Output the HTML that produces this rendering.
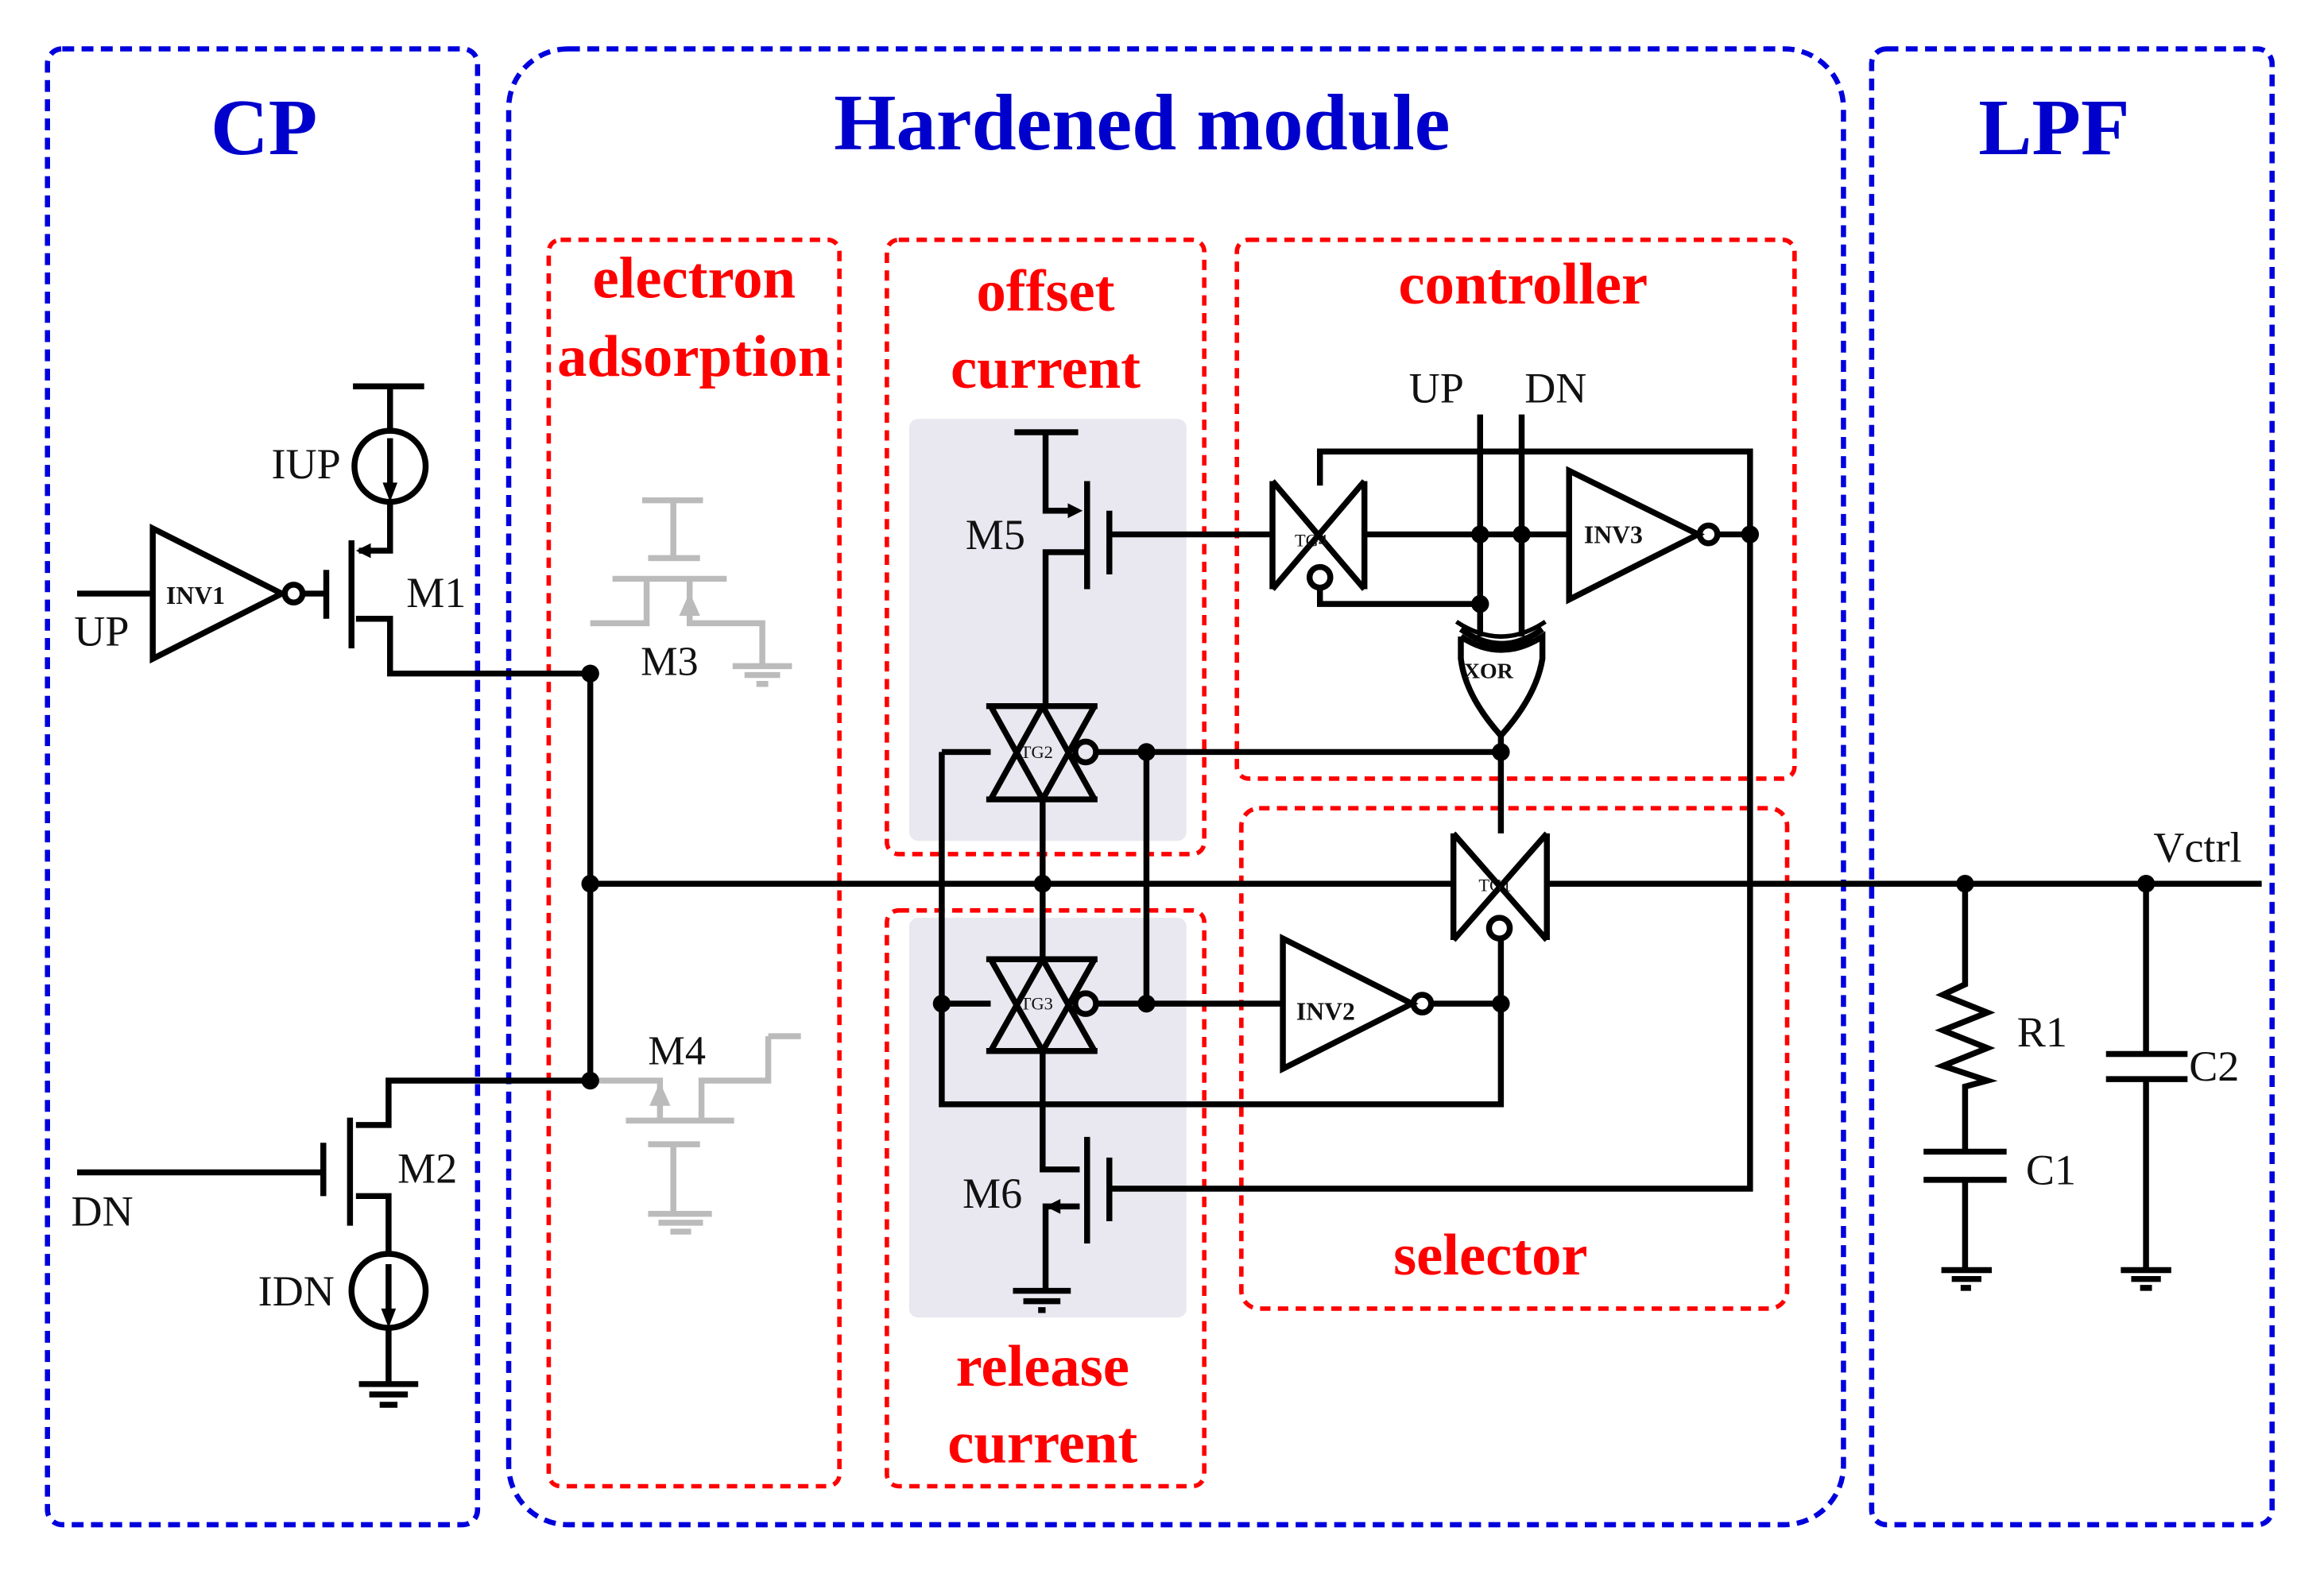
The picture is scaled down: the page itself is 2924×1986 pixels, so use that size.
<!DOCTYPE html>
<html><head><meta charset="utf-8"><style>
html,body{margin:0;padding:0;background:#fff;}
svg{display:block;}
text{font-family:"Liberation Serif",serif;}
</style></head><body>
<svg width="2924" height="1986" viewBox="0 0 1567 1066" preserveAspectRatio="none" xmlns="http://www.w3.org/2000/svg">
<rect width="1567" height="1066" fill="#fff"/>
<rect x="613" y="283" width="187" height="285" rx="6" fill="#e9e7ef"/>
<rect x="613" y="620" width="187" height="270" rx="6" fill="#e9e7ef"/>
<g fill="none" stroke="#0000dd" stroke-width="3.5" stroke-dasharray="8 5">
<rect x="32" y="33" width="290" height="997" rx="10"/>
<rect x="343" y="33" width="900" height="997" rx="40"/>
<rect x="1262" y="33" width="270" height="997" rx="10"/>
</g>
<g font-weight="bold" fill="#0000cc" text-anchor="middle" font-size="54">
<text x="178" y="104">CP</text>
<text x="770" y="101">Hardened module</text>
<text x="1385" y="104">LPF</text>
</g>
<g fill="none" stroke="#ff0000" stroke-width="3" stroke-dasharray="7 5">
<rect x="370" y="162" width="196" height="842" rx="8"/>
<rect x="598" y="162" width="214" height="415" rx="8"/>
<rect x="834" y="162" width="376" height="364" rx="8"/>
<rect x="598" y="615" width="214" height="389" rx="8"/>
<rect x="837" y="546" width="368" height="338" rx="12"/>
</g>
<g font-weight="bold" fill="#ff0000" text-anchor="middle" font-size="40">
<text x="468" y="201">electron</text>
<text x="468" y="254">adsorption</text>
<text x="705" y="210">offset</text>
<text x="705" y="262">current</text>
<text x="1027" y="205">controller</text>
<text x="1005" y="861">selector</text>
<text x="703" y="936">release</text>
<text x="703" y="988">current</text>
</g>
<g stroke="#bbbbbb" stroke-width="4" fill="none">
<path d="M433 338H474M454 338V377M437 377H472M413 391H490M436 391V421H398M465 391V421H514V449M494 450H534M502 456H526M510 462H518"/>
<path d="M518 700H540M518 700V730H473V757M422 757H495M445 757V730H398M437 773H472M454 773V820M437 820H480M444 826H474M452 832H466"/>
<path d="M465 405L461 414H469Z" fill="#bbb"/>
<path d="M445 736L441 745H449Z" fill="#bbb"/>
</g>
<g fill="#111" font-size="28">
<text x="432" y="456">M3</text>
<text x="437" y="719">M4</text>
</g>
<g stroke="#000" stroke-width="4" fill="none">
<path d="M238 261H286M263 261V291"/>
<circle cx="263" cy="315" r="24"/>
<path d="M263 296V330"/>
<path d="M263 339V372H242M237 365V438M220 385V418M240 418H263V455H398"/>
<path d="M103 357L103 445L190 401Z"/>
<circle cx="198" cy="401" r="6"/>
<path d="M204 401H220M52 401H103"/>
<path d="M398 455V730H262V760H240M236 755V828M218 772V808M52 792H218M240 808H262V847"/>
<circle cx="262" cy="872" r="25"/>
<path d="M262 854V888M262 897V935M242 935H282M249 942H275M256 949H268"/>
<path d="M398 597H980M1043 597H1525"/>
<path d="M684 292H727M705 292V345H724M733 325V398M748 345V388M748 361H858M733 373H705V477"/>
<path d="M665 477H740M665 540H740M668 477L703 540M703 477L668 540M703 477L738 540M738 477L703 540"/>
<circle cx="732" cy="508" r="7"/>
<path d="M635 508H668M739 508H1012M703 540V648"/>
<path d="M665 648H740M665 710H740M668 648L703 710M703 648L668 710M703 648L738 710M738 648L703 710"/>
<circle cx="732" cy="678" r="7"/>
<path d="M635 678H668M739 678H865M635 508V746H1012V634M773 508V678"/>
<path d="M703 710V790H728M733 768V840M748 782V825M748 803H1180V305H890V328M728 815H705V872M683 872H722M690 879H715M700 885H705"/>
<path d="M858 325V398M920 325V398M858 325L920 398M858 398L920 325"/>
<circle cx="890" cy="390" r="7"/>
<path d="M890 397V408H998M920 361H1058M998 280V430M1026 280V430"/>
<path d="M1058 318L1058 405L1145 361Z"/>
<circle cx="1152" cy="361" r="6"/>
<path d="M1158 361H1180"/>
<path d="M985 425Q1012 445 1040 425M985 430V445Q988 470 1012 497Q1036 470 1040 445V430Q1012 448 985 430M1012 497V563"/>
<path d="M982 420Q1012 440 1042 420" stroke-width="3"/>
<path d="M980 563V635M1043 563V635M980 563L1043 635M980 635L1043 563"/>
<circle cx="1011" cy="627" r="7"/>
<path d="M865 634L865 722L952 678Z"/>
<circle cx="959" cy="678" r="6"/>
<path d="M965 678H1012"/>
<path d="M1325 597V665L1310 672L1340 684L1310 696L1340 708L1310 720L1340 730L1325 734V778M1297 778H1353M1297 797H1353M1325 797V858M1309 858H1343M1316 864H1336M1322 870H1329"/>
<path d="M1447 597V712M1420 712H1475M1420 729H1475M1447 729V858M1430 858H1464M1437 864H1457M1443 870H1451"/>
</g>
<g fill="#000">
<path d="M263 339L258 326H268Z"/>
<path d="M240 372L250 367V377Z"/>
<path d="M262 897L257 884H267Z"/>
<path d="M730 345L720 340V350Z"/>
<path d="M705 815L715 810V820Z"/>
</g>
<g fill="#000">
<circle cx="398" cy="455" r="6"/><circle cx="398" cy="597" r="6"/><circle cx="398" cy="730" r="6"/>
<circle cx="703" cy="597" r="6"/><circle cx="773" cy="508" r="6"/><circle cx="773" cy="678" r="6"/>
<circle cx="635" cy="678" r="6"/><circle cx="1012" cy="508" r="6"/><circle cx="1012" cy="678" r="6"/>
<circle cx="998" cy="361" r="6"/><circle cx="1026" cy="361" r="6"/><circle cx="998" cy="408" r="6"/>
<circle cx="1180" cy="361" r="6"/><circle cx="1325" cy="597" r="6"/><circle cx="1447" cy="597" r="6"/>
</g>
<g fill="#111" font-size="29">
<text x="183" y="323">IUP</text>
<text x="274" y="410">M1</text>
<text x="50" y="436">UP</text>
<text x="268" y="799">M2</text>
<text x="48" y="828">DN</text>
<text x="174" y="882">IDN</text>
<text x="651" y="371">M5</text>
<text x="649" y="816">M6</text>
<text x="950" y="272">UP</text>
<text x="1028" y="272">DN</text>
<text x="1452" y="582">Vctrl</text>
<text x="1360" y="707">R1</text>
<text x="1366" y="800">C1</text>
<text x="1476" y="730">C2</text>
</g>
<g fill="#111" font-size="17" font-weight="bold">
<text x="112" y="408">INV1</text>
<text x="1068" y="367">INV3</text>
<text x="874" y="689">INV2</text>
<text x="987" y="458" font-size="15">XOR</text>
</g>
<g fill="#111" font-size="12">
<text x="873" y="369">TG4</text>
<text x="997" y="602">TG1</text>
<text x="688" y="512">TG2</text>
<text x="688" y="682">TG3</text>
</g>
</svg>
</body></html>
